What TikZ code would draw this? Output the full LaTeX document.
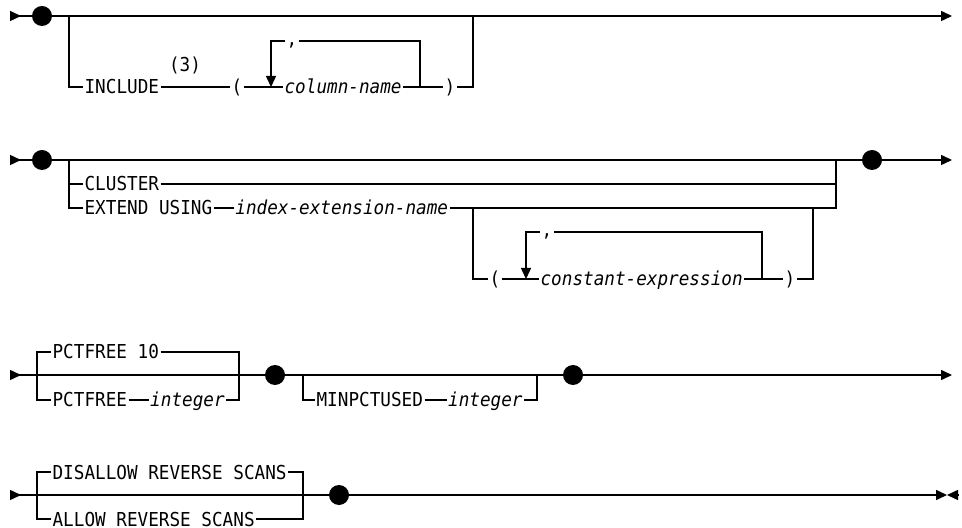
\documentclass[tikz,border=0pt]{standalone}
\usepackage{fontspec}
\usepackage{tikz}
\usetikzlibrary{arrows.meta,positioning}
\newfontfamily\railfont[FakeStretch=0.92]{DejaVu Sans Mono}
\newcommand\railsize{\fontsize{9.6}{11.5}\selectfont}
\tikzset{
  rail/.style = {
    line width=0.75pt
  },
  railend/.style = {
    rail,
    -{Triangle[length=5.5pt,width=5pt]}
  },
  railstart/.style = {
    rail,
    {Triangle[length=5.5pt,width=5pt,reversed]}-
  },
  railword/.style = {
    font=\railfont\railsize,
    inner sep=0pt,
    inner xsep=0.6pt,
    text height=7pt,
    text depth=0pt
  },
  railvar/.style = {
    railword,
    font=\railfont\railsize\itshape
  },
  railsep/.style = {
    railword,
    text height=4.5pt
  },
  raildot/.style = {
    circle,
    fill=black,
    inner sep=0pt,
    minimum size=10pt
  }
}

\begin{document}
\begin{tikzpicture}[x=0.5pt,y=-0.5pt]
    \useasboundingbox (0,0) rectangle (962,528);
    % INCLUDE
    \coordinate (s1) at (10,16);
    \coordinate (e1) at (952,16);
    \coordinate (b1) at (69,16);
    \coordinate (b1r) at (473,16);
    \coordinate (k1) at (271,87);
    \coordinate (kr1) at (420,87);
    \node[raildot] (d1) at (42,16) {};
    \node[railword, anchor=west] (incl) at (83,87) {INCLUDE};
    \node[railword] (note1) at (185,65) {(3)};
    \node[railword] (lp1) at (237,87) {(};
    \node[railvar, anchor=west] (col) at (283,87) {column-name};
    \node[railsep] (c1) at (292,41) {,};
    \node[railword] (rp1) at (450,87) {)};
    \draw[railstart] (s1) -- (d1);
    \draw[railend] (d1) -- (e1);
    \draw[rail] (b1) |- (incl.west);
    \draw[rail] (incl) -- (lp1);
    \draw[rail] (lp1) -- (col);
    \draw[rail] (col) -- (rp1);
    \draw[rail] (rp1) -| (b1r);
    \draw[rail] (kr1) |- (c1);
    \draw[railend] (c1) -| (k1);
    % CLUSTER / EXTEND USING
    \coordinate (s2) at (10,160);
    \coordinate (e2) at (952,160);
    \coordinate (b2) at (69,160);
    \coordinate (j2) at (836,160);
    \coordinate (b2b) at (473,208);
    \coordinate (b2c) at (813,208);
    \coordinate (k2) at (526,279);
    \coordinate (kr2) at (762,279);
    \node[raildot] (d2) at (42,160) {};
    \node[raildot] (d2b) at (872,160) {};
    \node[railword, anchor=west] (clu) at (83,184) {CLUSTER};
    \node[railword, anchor=west] (ext) at (83,208) {EXTEND USING};
    \node[railvar, right=10pt of ext] (idx) {index-extension-name};
    \node[railword] (lp2) at (495,279) {(};
    \node[railvar, anchor=west] (cexp) at (539,279) {constant-expression};
    \node[railsep] (c2) at (547,232) {,};
    \node[railword] (rp2) at (790,279) {)};
    \draw[railstart] (s2) -- (d2);
    \draw[rail] (d2) -- (d2b);
    \draw[railend] (d2b) -- (e2);
    \draw[rail] (b2) |- (clu.west);
    \draw[rail] (b2) |- (ext.west);
    \draw[rail] (clu.east) -| (j2);
    \draw[rail] (ext) -- (idx);
    \draw[rail] (idx.east) -| (j2);
    \draw[rail] (b2b) |- (lp2);
    \draw[rail] (lp2) -- (cexp);
    \draw[rail] (cexp) -- (rp2);
    \draw[rail] (rp2) -| (b2c);
    \draw[rail] (kr2) |- (c2);
    \draw[railend] (c2) -| (k2);
    % PCTFREE / MINPCTUSED
    \coordinate (s3) at (10,375);
    \coordinate (e3) at (952,375);
    \coordinate (b3) at (37,375);
    \coordinate (j3) at (239,375);
    \coordinate (b3b) at (303,375);
    \coordinate (j3b) at (537,375);
    \node[raildot] (d3) at (275,375) {};
    \node[raildot] (d3b) at (573,375) {};
    \node[railword, anchor=west] (pf10) at (51,352) {PCTFREE 10};
    \node[railword, anchor=west] (pf) at (51,400) {PCTFREE};
    \node[railvar, right=10pt of pf] (pfint) {integer};
    \node[railword, anchor=west] (mpu) at (315,400) {MINPCTUSED};
    \node[railvar, right=11pt of mpu] (mpuint) {integer};
    \draw[railstart] (s3) -- (d3);
    \draw[rail] (d3) -- (d3b);
    \draw[railend] (d3b) -- (e3);
    \draw[rail] (b3) |- (pf10.west);
    \draw[rail] (b3) |- (pf.west);
    \draw[rail] (pf10.east) -| (j3);
    \draw[rail] (pf) -- (pfint);
    \draw[rail] (pfint.east) -| (j3);
    \draw[rail] (b3b) |- (mpu.west);
    \draw[rail] (mpu) -- (mpuint);
    \draw[rail] (mpuint.east) -| (j3b);
    % REVERSE SCANS
    \coordinate (s4) at (10,495);
    \coordinate (e4) at (947,495);
    \coordinate (e4b) at (958,495);
    \coordinate (b4) at (37,495);
    \coordinate (j4) at (303,495);
    \node[raildot] (d4) at (339,495) {};
    \node[railword, anchor=west] (dis) at (51,472) {DISALLOW REVERSE SCANS};
    \node[railword, anchor=west] (allow) at (51,519) {ALLOW REVERSE SCANS};
    \draw[railstart] (s4) -- (d4);
    \draw[railend] (d4) -- (e4);
    \draw[railend] (e4b) -- (e4);
    \draw[rail] (b4) |- (dis.west);
    \draw[rail] (b4) |- (allow.west);
    \draw[rail] (dis.east) -| (j4);
    \draw[rail] (allow.east) -| (j4);
  \end{tikzpicture}
\end{document}
